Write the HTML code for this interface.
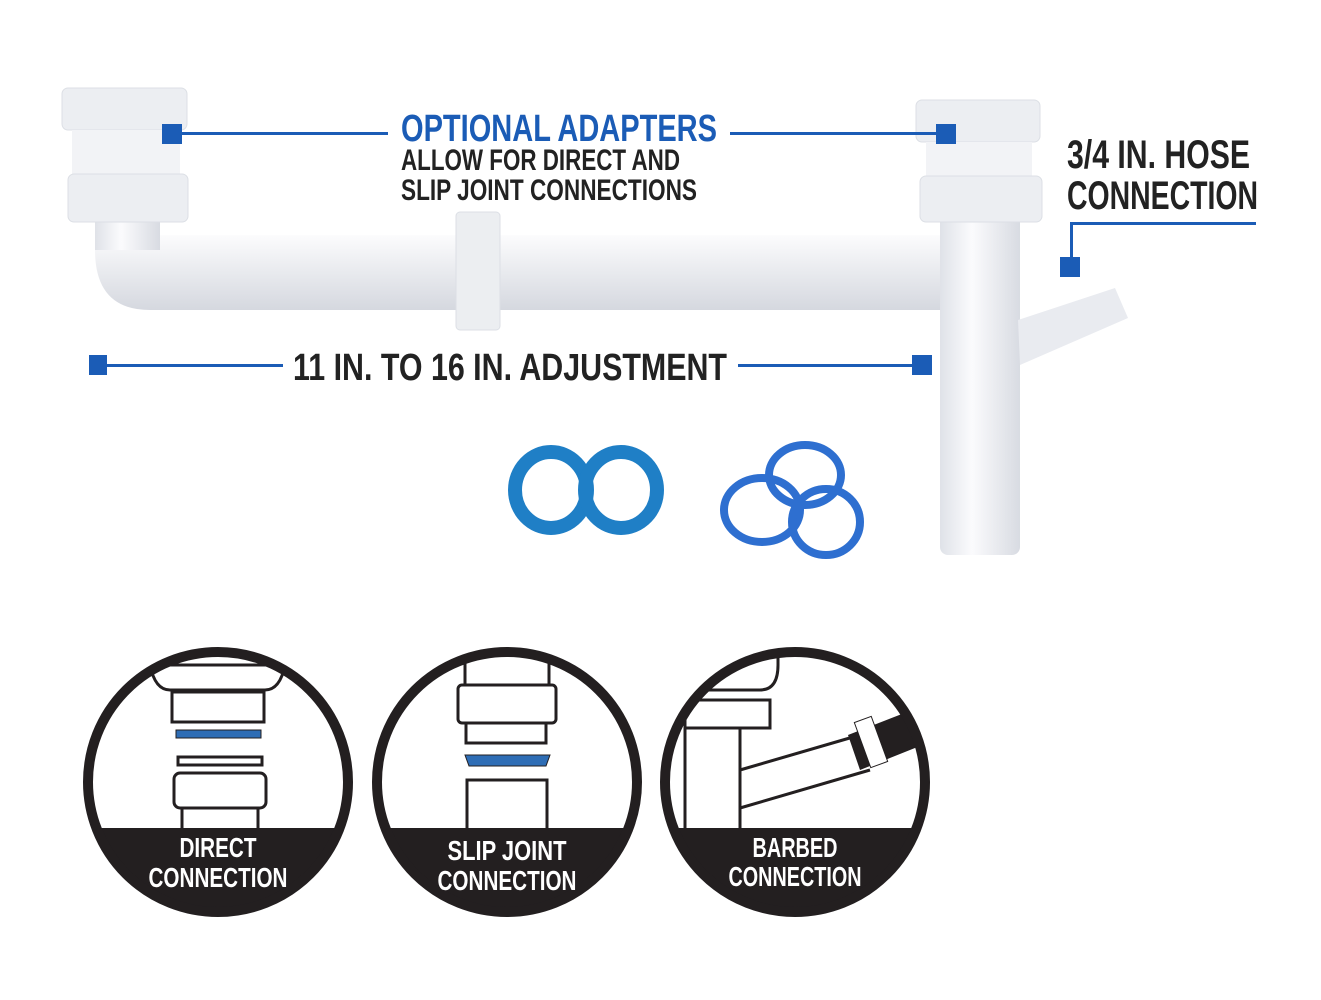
<!DOCTYPE html>
<html><head><meta charset="utf-8"><style>
body{margin:0;background:#fff;}
svg{display:block}
text{font-family:"Liberation Sans",sans-serif;font-weight:bold}
</style></head><body>
<svg width="1321" height="1000" viewBox="0 0 1321 1000" xmlns="http://www.w3.org/2000/svg">
<defs>
<linearGradient id="pv" x1="0" y1="0" x2="1" y2="0"><stop offset="0" stop-color="#dfe2e8"/><stop offset=".4" stop-color="#fbfbfd"/><stop offset="1" stop-color="#d8dbe2"/></linearGradient>
<linearGradient id="ph" x1="0" y1="0" x2="0" y2="1"><stop offset="0" stop-color="#e6e8ee"/><stop offset=".45" stop-color="#fdfdfe"/><stop offset="1" stop-color="#d5d8df"/></linearGradient>
</defs>
<path d="M95 170 L95 250 Q95 310 150 310 L945 310 L945 235 L160 235 L160 170 Z" fill="url(#ph)"/>
<rect x="95" y="120" width="65" height="130" fill="url(#pv)"/>
<rect x="62" y="88" width="125" height="42" rx="6" fill="#eceef2" stroke="#dcdfe5"/>
<rect x="72" y="130" width="108" height="44" fill="#f2f3f6"/>
<rect x="68" y="174" width="120" height="48" rx="6" fill="#eceef2" stroke="#dcdfe5"/>
<rect x="940" y="150" width="80" height="160" fill="url(#pv)"/>
<rect x="940" y="300" width="80" height="255" rx="8" fill="url(#pv)"/>
<polygon points="1018,320 1115,288 1128,318 1020,365" fill="#e9ebf0"/>
<rect x="916" y="100" width="124" height="42" rx="6" fill="#eceef2" stroke="#dcdfe5"/>
<rect x="926" y="142" width="106" height="34" fill="#f2f3f6"/>
<rect x="920" y="176" width="122" height="46" rx="6" fill="#eceef2" stroke="#dcdfe5"/>
<rect x="456" y="212" width="44" height="118" rx="4" fill="#eceef1" stroke="#dcdfe5"/>
<g fill="#1b5cb6">
<rect x="162" y="124" width="20" height="20"/><rect x="180" y="132" width="208" height="3"/>
<rect x="730" y="132" width="208" height="3"/><rect x="936" y="124" width="20" height="20"/>
<rect x="89" y="355" width="18" height="20"/><rect x="105" y="364" width="178" height="3"/>
<rect x="738" y="364" width="178" height="3"/><rect x="912" y="355" width="20" height="20"/>
<rect x="1070" y="222" width="186" height="3"/><rect x="1070" y="222" width="3" height="40"/><rect x="1060" y="257" width="20" height="20"/>
</g>
<text x="401" y="141" font-size="38" fill="#1b5cb6" textLength="316" lengthAdjust="spacingAndGlyphs">OPTIONAL ADAPTERS</text>
<text x="401" y="170" font-size="30" fill="#222" textLength="279" lengthAdjust="spacingAndGlyphs">ALLOW FOR DIRECT AND</text>
<text x="401" y="200" font-size="30" fill="#222" textLength="296" lengthAdjust="spacingAndGlyphs">SLIP JOINT CONNECTIONS</text>
<text x="293" y="380" font-size="38" fill="#222" textLength="434" lengthAdjust="spacingAndGlyphs">11 IN. TO 16 IN. ADJUSTMENT</text>
<text x="1067" y="168" font-size="40" fill="#222" textLength="183" lengthAdjust="spacingAndGlyphs">3/4 IN. HOSE</text>
<text x="1067" y="209" font-size="40" fill="#222" textLength="191" lengthAdjust="spacingAndGlyphs">CONNECTION</text>
<g fill="none">
<ellipse cx="551" cy="490" rx="36" ry="38" stroke="#1f7fc6" stroke-width="14"/>
<ellipse cx="621" cy="490" rx="36" ry="38" stroke="#1f7fc6" stroke-width="14"/>
<ellipse cx="805" cy="475" rx="36" ry="30" stroke="#2e6fd0" stroke-width="8"/>
<ellipse cx="762" cy="510" rx="38" ry="32" stroke="#2e6fd0" stroke-width="8"/>
<ellipse cx="826" cy="522" rx="34" ry="33" stroke="#2e6fd0" stroke-width="8"/>
</g>
<g>
<clipPath id="c1"><circle cx="218" cy="782" r="130"/></clipPath>
<clipPath id="c2"><circle cx="507" cy="782" r="130"/></clipPath>
<clipPath id="c3"><circle cx="795" cy="782" r="130"/></clipPath>
<g clip-path="url(#c1)"><rect x="80" y="828" width="280" height="100" fill="#231f20"/>
<path d="M150 665 L285 665 Q280 690 265 690 L170 690 Q155 690 150 665Z" fill="none" stroke="#231f20" stroke-width="3"/>
<rect x="172" y="692" width="92" height="30" fill="none" stroke="#231f20" stroke-width="3"/>
<rect x="176" y="730" width="85" height="8" fill="#2e6db5" stroke="#231f20"/>
<rect x="178" y="757" width="84" height="8" fill="none" stroke="#231f20" stroke-width="3"/>
<rect x="174" y="773" width="92" height="35" rx="6" fill="none" stroke="#231f20" stroke-width="3"/>
<rect x="182" y="808" width="76" height="22" fill="none" stroke="#231f20" stroke-width="3"/></g>
<g clip-path="url(#c2)"><rect x="370" y="828" width="280" height="100" fill="#231f20"/>
<rect x="465" y="650" width="84" height="35" fill="none" stroke="#231f20" stroke-width="3"/>
<rect x="458" y="685" width="98" height="38" rx="4" fill="none" stroke="#231f20" stroke-width="3"/>
<rect x="466" y="723" width="80" height="20" fill="none" stroke="#231f20" stroke-width="3"/>
<path d="M465 755 L550 755 L546 766 L469 766Z" fill="#2e6db5" stroke="#231f20"/>
<rect x="467" y="780" width="80" height="52" fill="none" stroke="#231f20" stroke-width="3"/></g>
<g clip-path="url(#c3)"><rect x="660" y="828" width="280" height="100" fill="#231f20"/>
<path d="M680 690 L760 690 Q778 690 778 665 L778 650" fill="none" stroke="#231f20" stroke-width="3"/>
<rect x="685" y="700" width="85" height="28" fill="none" stroke="#231f20" stroke-width="3"/>
<rect x="685" y="728" width="55" height="102" fill="none" stroke="#231f20" stroke-width="3"/>
<path d="M740 770 L860 735 M740 808 L870 770" stroke="#231f20" stroke-width="3"/>
<path d="M848 735 L925 705 L935 740 L860 770Z" fill="#231f20"/>
<rect x="862" y="718" width="18" height="48" fill="#fff" stroke="#231f20" transform="rotate(-20 871 742)"/></g>
<circle cx="218" cy="782" r="130" fill="none" stroke="#231f20" stroke-width="10"/>
<circle cx="507" cy="782" r="130" fill="none" stroke="#231f20" stroke-width="10"/>
<circle cx="795" cy="782" r="130" fill="none" stroke="#231f20" stroke-width="10"/>
</g>
<g fill="#fff" font-size="28" text-anchor="middle" lengthAdjust="spacingAndGlyphs">
<text x="218" y="857" textLength="77" lengthAdjust="spacingAndGlyphs">DIRECT</text><text x="218" y="887" textLength="139" lengthAdjust="spacingAndGlyphs">CONNECTION</text>
<text x="507" y="860" textLength="119" lengthAdjust="spacingAndGlyphs">SLIP JOINT</text><text x="507" y="890" textLength="139" lengthAdjust="spacingAndGlyphs">CONNECTION</text>
<text x="795" y="857" textLength="85" lengthAdjust="spacingAndGlyphs">BARBED</text><text x="795" y="886" textLength="133" lengthAdjust="spacingAndGlyphs">CONNECTION</text>
</g>
</svg>
</body></html>
